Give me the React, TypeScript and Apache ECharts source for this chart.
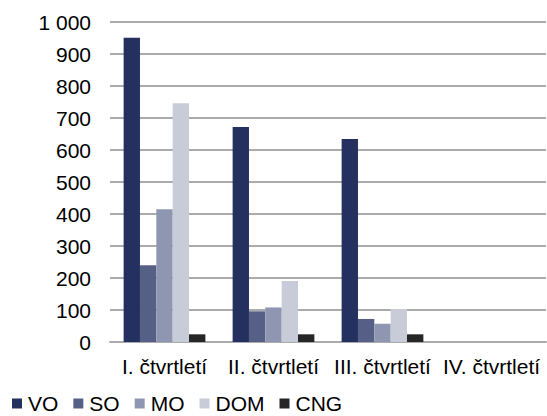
import React, { useEffect, useRef } from "react";
import * as echarts from "echarts";

const categories = ["I. čtvrtletí", "II. čtvrtletí", "III. čtvrtletí", "IV. čtvrtletí"];
const seriesNames = ["VO", "SO", "MO", "DOM", "CNG"];
const voValues = [951, 672, 634, null];
const soValues = [240, 96, 72, null];
const moValues = [415, 108, 57, null];
const domValues = [746, 191, 103, null];
const cngValues = [24, 24, 24, null];
const colors = ["#243060", "#566087", "#8f96b1", "#c8ccd8", "#262626"];

export default function App() {
  const ref = useRef<HTMLDivElement>(null);
  useEffect(() => {
    if (!ref.current) return;
    const chart = echarts.init(ref.current, null, { renderer: "svg" });
    const allValues = [voValues, soValues, moValues, domValues, cngValues];
    const font = "'Liberation Sans', Arial, sans-serif";
    chart.setOption({
      animation: false,
      textStyle: { fontFamily: font },
      grid: { left: 110, right: 1, top: 22, bottom: 74, containLabel: false },
      legend: {
        left: 12,
        top: 393,
        padding: 0,
        itemWidth: 10,
        itemHeight: 10,
        itemGap: 15,
        icon: "rect",
        textStyle: { fontSize: 21, color: "#000", fontFamily: font, padding: [0, 0, 0, 1] },
        data: seriesNames,
      },
      xAxis: {
        type: "category",
        data: categories,
        axisLine: { lineStyle: { color: "#ababab", width: 2 } },
        axisTick: { show: false },
        axisLabel: { fontSize: 21, color: "#000", margin: 14, fontFamily: font, interval: 0 },
      },
      yAxis: {
        type: "value",
        min: 0,
        max: 1000,
        interval: 100,
        axisLine: { show: false },
        axisTick: { show: false },
        splitLine: { lineStyle: { color: "#ababab", width: 2 } },
        axisLabel: {
          fontSize: 21,
          color: "#000",
          margin: 19,
          fontFamily: font,
          formatter: (v: number) => (v >= 1000 ? String(v).replace(/\B(?=(\d{3})+(?!\d))/g, " ") : String(v)),
        },
      },
      series: seriesNames.map((name, i) => ({
        name,
        type: "bar",
        data: allValues[i],
        barGap: "0%",
        barCategoryGap: "25%",
        itemStyle: { color: colors[i] },
      })),
    });
    return () => chart.dispose();
  }, []);
  return <div ref={ref} style={{ width: 547, height: 416, position: "absolute", left: 0, top: 0 }} />;
}
